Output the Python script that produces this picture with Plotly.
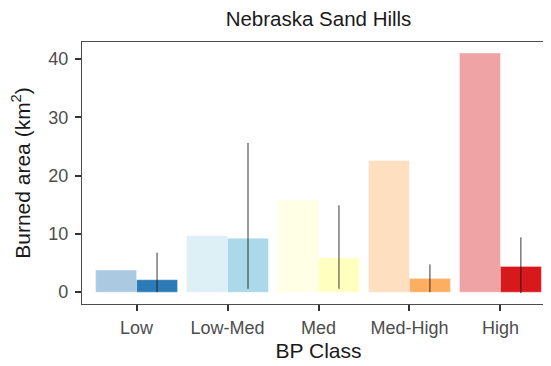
import plotly.graph_objects as go

categories = ["Low", "Low-Med", "Med", "Med-High", "High"]
observed = [3.78, 9.69, 15.8, 22.6, 41.0]
expected = [2.13, 9.23, 5.84, 2.35, 4.42]
ci_low = [0.0, 0.58, 0.58, 0.0, -0.17]
ci_high = [6.77, 25.6, 14.9, 4.76, 9.4]
colors = ["#2c7bb6", "#abd9e9", "#ffffbf", "#fdae61", "#d7191c"]


def rgba(h, a):
    h = h.lstrip("#")
    r, g, b = int(h[0:2], 16), int(h[2:4], 16), int(h[4:6], 16)
    return f"rgba({r},{g},{b},{a})"


fig = go.Figure()
fig.add_trace(go.Bar(
    x=categories, y=observed, offsetgroup="obs",
    marker=dict(color=[rgba(c, 0.4) for c in colors],
                line=dict(color="rgba(255,255,255,0.6)", width=0.6)),
    showlegend=False, hoverinfo="skip",
))
fig.add_trace(go.Bar(
    x=categories, y=expected, offsetgroup="exp",
    marker=dict(color=[rgba(c, 1.0) for c in colors],
                line=dict(color="rgba(255,255,255,0.5)", width=0.6)),
    error_y=dict(type="data", symmetric=False,
                 array=[h - v for h, v in zip(ci_high, expected)],
                 arrayminus=[v - l for l, v in zip(ci_low, expected)],
                 width=0, thickness=1, color="rgba(20,20,20,0.85)"),
    showlegend=False, hoverinfo="skip",
))

W, H = 551, 366
L, T, B, R = 73.5, 34, 70, 3.5
fig.update_layout(
    width=W, height=H,
    margin=dict(l=L, r=R, t=T, b=B, autoexpand=False),
    paper_bgcolor="white", plot_bgcolor="white",
    barmode="group", bargap=0.1, bargroupgap=0,
    font=dict(family="Liberation Sans, Arial, sans-serif", color="#1a1a1a"),
    title=dict(text="Nebraska Sand Hills", x=(L + W - R) / 2 / W, xanchor="center",
               y=1 - 10.5 / H, yanchor="middle", font=dict(size=20.5, color="#1a1a1a")),
)
fig.update_xaxes(
    type="category", range=[-0.6, 4.6], automargin=False,
    showline=True, linecolor="#4d4d4d", linewidth=1.2, mirror=True,
    ticks="outside", ticklen=6, tickwidth=1.8, tickcolor="#333333",
    tickfont=dict(size=18, color="#4d4d4d"), ticklabelstandoff=1,
    title=dict(text="BP Class", font=dict(size=21, color="#1a1a1a"), standoff=6),
    showgrid=False, zeroline=False,
)
fig.update_yaxes(
    range=[-2.03, 42.9], tickvals=[0, 10, 20, 30, 40], automargin=False,
    showline=True, linecolor="#4d4d4d", linewidth=1.2, mirror=False,
    ticks="outside", ticklen=6, tickwidth=1.8, tickcolor="#333333",
    tickfont=dict(size=18, color="#4d4d4d"), ticklabelstandoff=3,
    title=dict(text="Burned area (km<sup>2</sup>)", font=dict(size=21, color="#1a1a1a"), standoff=13),
    showgrid=False, zeroline=False,
)

fig.write_html("out.html")
